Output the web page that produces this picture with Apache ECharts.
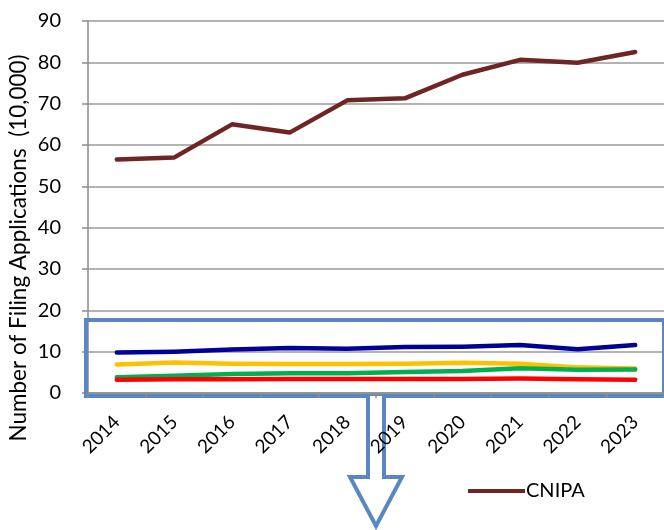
<!DOCTYPE html>
<html><head><meta charset="utf-8">
<script src="https://cdn.jsdelivr.net/npm/echarts@6/dist/echarts.min.js"></script>
<style>html,body{margin:0;padding:0;background:#fff}#c{width:664px;height:530px}</style>
</head><body><div id="c"></div>
<script>
const years = ['2014','2015','2016','2017','2018','2019','2020','2021','2022','2023'];
const cnipa  = [56.5, 57.0, 65.0, 63.0, 70.8, 71.3, 77.0, 80.6, 79.9, 82.5];
const blueS  = [9.8, 10.0, 10.5, 10.9, 10.7, 11.1, 11.2, 11.6, 10.6, 11.6];
const yellowS= [6.9, 7.4, 7.1, 7.0, 7.0, 7.1, 7.3, 7.1, 6.2, 5.9];
const greenS = [3.8, 4.2, 4.6, 4.8, 4.8, 5.1, 5.3, 6.0, 5.6, 5.7];
const redS   = [3.2, 3.3, 3.3, 3.4, 3.4, 3.4, 3.4, 3.5, 3.3, 3.2];
const yTicks = {min: 0, max: 90, interval: 10};

const chart = echarts.init(document.getElementById('c'));
const FONT = 'Lato';
function line(name, data, color) {
  return {name, type: 'line', data, symbol: 'none', smooth: false,
    lineStyle: {color, width: 4.5, cap: 'round', join: 'round'}, itemStyle: {color}, z: 3};
}
chart.setOption({
  animation: false,
  grid: {left: 88, right: 0, top: 21, bottom: 137},
  legend: {data: ['CNIPA'], left: 463, top: 476, icon: 'rect', itemWidth: 57, itemHeight: 4,
    itemGap: 0, textStyle: {fontFamily: FONT, fontSize: 20, color: '#000', padding: [0,0,0,-4]}},
  xAxis: {type: 'category', data: years, boundaryGap: true, z: 30,
    axisLine: {lineStyle: {color: '#8c8c8c', width: 1.5}},
    axisTick: {show: true, length: 5, lineStyle: {color: '#8c8c8c', width: 1.5}},
    axisLabel: {rotate: 45, fontFamily: FONT, fontSize: 19, color: '#000', margin: 26, interval: 0}},
  yAxis: {type: 'value', min: yTicks.min, max: yTicks.max, interval: yTicks.interval,
    axisLine: {show: true, lineStyle: {color: '#8c8c8c', width: 1.5}},
    axisTick: {show: true, length: 6, lineStyle: {color: '#8c8c8c', width: 1.5}},
    splitLine: {lineStyle: {color: '#9a9a9a', width: 1.5}},
    axisLabel: {fontFamily: FONT, fontSize: 20, color: '#000', margin: 27}},
  series: [
    line('CNIPA', cnipa, '#6e2524'),
    line('S1', blueS, '#000099'),
    line('S2', yellowS, '#ffc000'),
    line('S3', greenS, '#00b050'),
    line('S4', redS, '#ff0000')
  ],
  graphic: [
    {type: 'text', rotation: Math.PI/2, x: 19, y: 248, z: 10,
      style: {text: 'Number of Filing Applications  (10,000)', fontFamily: FONT, fontSize: 22.5, fill: '#000',
        align: 'center', verticalAlign: 'middle'}},
    {type: 'rect', z: 20, shape: {x: 86, y: 320, width: 578, height: 76},
      style: {fill: 'none', stroke: '#5a87c2', lineWidth: 4}},
    {type: 'polygon', z: 21, shape: {points: [[368,396],[368,477],[350,477],[376,526],[402,477],[384,477],[384,396]]},
      style: {fill: '#fff', stroke: 'none'}},
    {type: 'polyline', z: 22, shape: {points: [[368,396],[368,477],[350,477],[376,526],[402,477],[384,477],[384,396]]},
      style: {fill: 'none', stroke: '#5a87c2', lineWidth: 4, lineJoin: 'miter'}},
    {type: 'line', z: 21, shape: {x1: 370, y1: 394.5, x2: 382, y2: 394.5}, style: {stroke: '#8c8c8c', lineWidth: 1.5}}
  ]
});
</script></body></html>
